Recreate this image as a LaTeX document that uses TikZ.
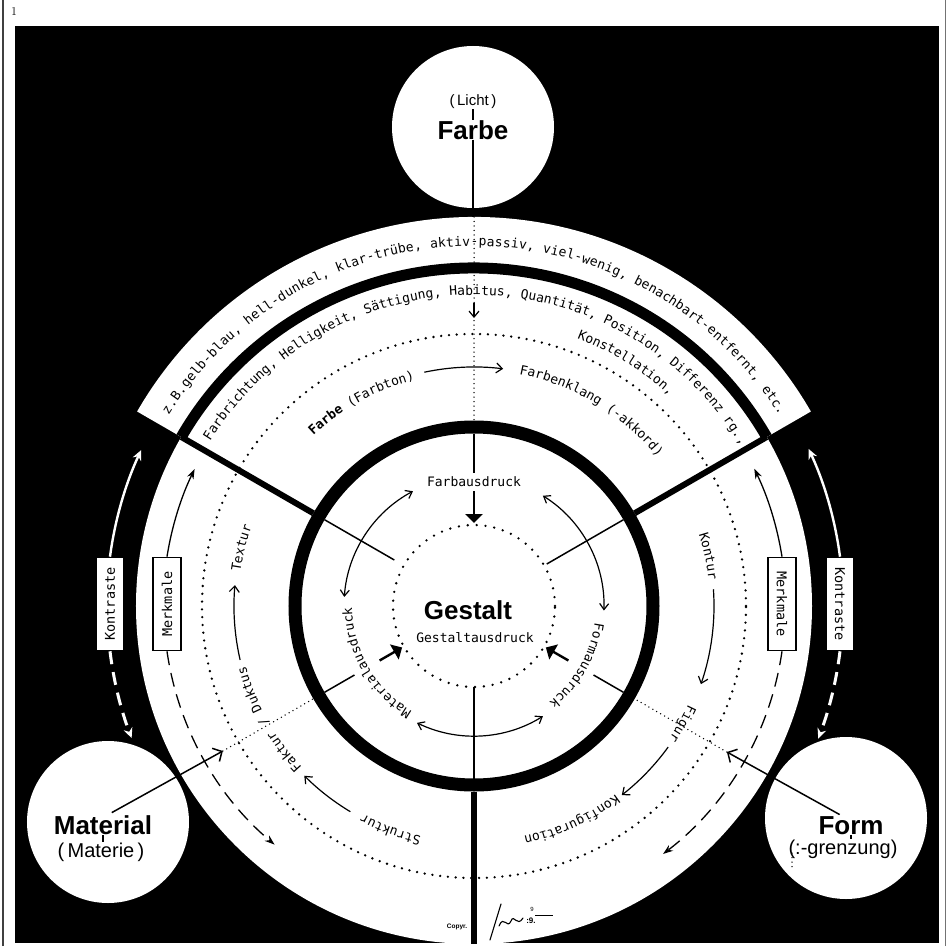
\documentclass[tikz,border=0pt]{standalone}
\usepackage{fontspec}
\setsansfont{Liberation Sans}
\setmonofont{DejaVu Sans Mono}
\usetikzlibrary{arrows.meta,decorations.text}

\newcommand\arcfont{\ttfamily\mdseries\fontsize{13}{15}\selectfont}
\newcommand\bigfont{\sffamily\bfseries\fontsize{26}{30}\selectfont}
\newcommand\subfont{\sffamily\fontsize{20}{22}\selectfont}

\tikzset{
  ring/.style       ={line width=13pt},
  divider/.style    ={line width=6pt},
  spoke/.style      ={line width=1.5pt},
  dotring/.style    ={line width=2.6pt,line cap=round,dash pattern=on 0pt off 7.8pt},
  finedots/.style   ={line width=1.5pt,line cap=round,dash pattern=on 0pt off 4.5pt},
  arctext/.style    ={decorate,decoration={text along path,text align=center,text={#1}}},
  fittext/.style    ={decorate,decoration={text along path,text align=fit to path,text={#1}}},
  pole/.style       ={circle,fill=white,minimum size=162pt,inner sep=0pt},
  label/.style      ={inner sep=0pt},
  tag/.style        ={draw,line width=1.6pt,fill=white,minimum width=93pt,minimum height=28pt,
                      inner sep=0pt,font=\ttfamily\fontsize{13.5}{15}\selectfont},
  flowarc/.style    ={line width=1.2pt,-{Straight Barb[length=6pt,width=10pt]}},
  twoway/.style     ={line width=1.2pt,{Straight Barb[length=6pt,width=9pt]}-{Straight Barb[length=6pt,width=9pt]}},
  inward/.style     ={line width=2.4pt,-{Triangle[length=9pt,width=17pt]}},
  inflow/.style     ={line width=1.5pt,-{Straight Barb[length=7pt,width=15pt]}},
  feature/.style    ={line width=1.3pt,-{Stealth[length=10pt,width=7pt]}},
  featuredash/.style={feature,dash pattern=on 14pt off 8pt},
  contrast/.style   ={white,line width=2.4pt,-{Stealth[length=10pt,width=9pt]}},
  contrastdash/.style={contrast,line width=3pt,dash pattern=on 13pt off 8pt}
}

\begin{document}
\begin{tikzpicture}[x=1pt,y=1pt]
  % page, number and black panel
  \useasboundingbox (-474,-340) rectangle (473,606);
  \fill[white] (-474,-340) rectangle (473,606);
  \draw[line width=1.2pt,black!75] (-471,-340) -- (-471,606);
  \draw[line width=1pt,black!55] (471,-340) -- (471,606);
  \node[font=\rmfamily\fontsize{12}{12}\selectfont] (pageno) at (-460,594) {1};
  \fill[black] (-459,-337) rectangle (465,580);

  % white fields of the wheel
  \fill[white] (0,0) circle[radius=338];
  \fill[white] (30:338) arc[start angle=30,end angle=150,radius=338]
    -- (150:389) arc[start angle=150,end angle=30,radius=389] -- cycle;
  \draw[ring,line width=11pt] (30:338) arc[start angle=30,end angle=150,radius=338];
  \node[pole] (farbe) at (-1,479) {};
  \node[pole] (material) at (-366,-216) {};
  \node[pole] (form) at (372,-212) {};

  % rings and dividers
  \draw[dotring] (0,0) circle[radius=272];
  \draw[ring] (0,0) circle[radius=179];
  \draw[dotring,dash pattern=on 0pt off 8.9pt] (0,0) circle[radius=81];
  \foreach \a in {30,150,270}
    \draw[divider] (\a:185.5) -- (\a:338);
  \draw[spoke] (150:172.5) -- (150:92);
  \draw[spoke] (30:172.5) -- (30:84);
  \draw[spoke] (270:172.5) -- (270:81);

  % poles
  \node[label,font=\sffamily\fontsize{15}{16}\selectfont] (licht) at (-1,504) {(\,Licht\,)};
  \node[label,font=\bigfont] (farbename) at (-1,476) {Farbe};
  \draw[line width=1.2pt] (licht.south) -- (licht.south |- farbename.north);
  \node[label,font=\bigfont] (matname) at (-371,-219) {Material};
  \node[label,font=\subfont] (matsub) at (-373,-246) {(\,Materie\,)};
  \draw[line width=1.2pt] (matname.south) -- (matname.south |- matsub.north);
  \node[label,font=\bigfont] (formname) at (377,-220) {Form};
  \node[label,font=\subfont] (formsub) at (369,-243) {(:-grenzung)};
  \draw[line width=1.2pt] (formname.south) -- (formname.south |- formsub.north);
  \draw[finedots] (318,-247) -- (318,-263);

  % feeds from the poles
  \coordinate (bandtop) at (90:389);
  \coordinate (matfoot) at (209.7:417);
  \coordinate (matgate) at (210:290);
  \coordinate (formfoot) at (330.3:421);
  \coordinate (formgate) at (330:292);
  \draw[spoke] (farbename.south) -- (farbename.south |- bandtop);
  \draw[finedots] (bandtop) -- (90:185.5);
  \draw[line width=1.2pt,-{Straight Barb[length=6pt,width=10pt]}] (90:303) -- (90:288);
  \draw[inflow] (matfoot) -- (matgate);
  \draw[finedots] (matgate) -- (210:185.5);
  \draw[inflow] (formfoot) -- (formgate);
  \draw[finedots] (formgate) -- (330:185.5);

  % outer texts
  \path[fittext={|\arcfont|z.B.gelb-blau, hell-dunkel, klar-trübe, aktiv-passiv, viel-wenig, benachbart-entfernt,  etc.}]
    (148:360) arc[start angle=148,end angle=32,radius=360];
  \path[fittext={|\arcfont|Farbrichtung, Helligkeit, Sättigung, Habitus, Quantität, Position, Differenz rg.,}]
    (148:311) arc[start angle=148,end angle=31,radius=311];
  \path[arctext={|\arcfont|Konstellation,}]
    (70:287) arc[start angle=70,end angle=46,radius=287];

  % boxes with their arrows
  \node[tag,rotate=90] (kontrastL) at (-364,2) {Kontraste};
  \node[tag,rotate=90] (merkmalL) at (-307,2) {Merkmale};
  \node[tag,rotate=-90] (merkmalR) at (308,2) {Merkmale};
  \node[tag,rotate=-90] (kontrastR) at (366,2) {Kontraste};
  \draw[contrast] (kontrastL.east) arc[start angle=172.4,end angle=155,radius=367];
  \draw[contrastdash] (kontrastL.west) arc[start angle=187,end angle=201,radius=367];
  \draw[feature] (merkmalL.east) arc[start angle=171,end angle=154,radius=311];
  \draw[featuredash] (merkmalL.west) arc[start angle=188.2,end angle=230,radius=310];
  \draw[feature] (merkmalR.west) arc[start angle=9,end angle=26,radius=312];
  \draw[featuredash] (merkmalR.east) arc[start angle=-8.2,end angle=-52.6,radius=311];
  \draw[contrast] (kontrastR.west) arc[start angle=7.5,end angle=25,radius=369];
  \draw[contrastdash] (kontrastR.east) arc[start angle=-7,end angle=-21,radius=369];

  % middle ring: Farbe, Material, Form sequences
  \path[arctext={|\arcfont\bfseries|Farbe |\arcfont|(Farbton)}]
    (137:234) arc[start angle=137,end angle=101,radius=234];
  \draw[flowarc] (102:239) arc[start angle=102,end angle=83,radius=239];
  \path[arctext={|\arcfont|Farbenklang (-akkord)}]
    (81:236) arc[start angle=81,end angle=37,radius=236];
  \path[arctext={|\arcfont|Textur}]
    (176:236) arc[start angle=176,end angle=156,radius=236];
  \draw[flowarc] (193:240) arc[start angle=193,end angle=175,radius=240];
  \path[arctext={|\arcfont|Faktur / Duktus}]
    (226:236) arc[start angle=226,end angle=192,radius=236];
  \draw[flowarc] (239:240) arc[start angle=239,end angle=225,radius=240];
  \path[arctext={|\arcfont|Struktur}]
    (262:236) arc[start angle=262,end angle=237,radius=236];
  \path[arctext={|\arcfont|Kontur}]
    (22:236) arc[start angle=22,end angle=2,radius=236];
  \draw[flowarc] (4:240) arc[start angle=4,end angle=-19,radius=240];
  \path[arctext={|\arcfont|Figur}]
    (-19:236) arc[start angle=-19,end angle=-40,radius=236];
  \draw[flowarc] (-36:240) arc[start angle=-36,end angle=-52,radius=240];
  \path[arctext={|\arcfont|Konfiguration}]
    (-50:236) arc[start angle=-50,end angle=-81,radius=236];

  % inner ring: the three Ausdruck labels
  \node[font=\arcfont,inner sep=4pt] (farbaus) at (0,124) {Farbausdruck};
  \draw[spoke] (90:172.5) -- (farbaus.north);
  \draw[inward] (farbaus.south) -- (90:83);
  \path[arctext={|\arcfont|Materialausdruck}]
    (244:122) arc[start angle=244,end angle=176,radius=122];
  \draw[spoke] (210:172.5) -- (210:138);
  \draw[inward] (210:109) -- (210:83);
  \path[arctext={|\arcfont|Formausdruck}]
    (-3:122) arc[start angle=-3,end angle=-57,radius=122];
  \draw[spoke] (330:172.5) -- (330:138);
  \draw[inward] (330:109) -- (330:83);
  \draw[twoway] (118:130) arc[start angle=118,end angle=176,radius=130];
  \draw[twoway] (244:130) arc[start angle=244,end angle=302,radius=130];
  \draw[twoway] (-2:130) arc[start angle=-2,end angle=58,radius=130];

  % centre
  \node[label,font=\bigfont] (gestalt) at (-6,-4) {Gestalt};
  \node[label,font=\arcfont] (gausdruck) at (1,-32) {Gestaltausdruck};

  % signature
  \node[label,font=\sffamily\bfseries\fontsize{6.5}{7}\selectfont] (copyr) at (-17,-321) {Copyr.};
  \draw[line width=1.1pt,line cap=round] (16,-334) -- (27,-298);
  \draw[line width=1.1pt,line cap=round] (25,-320) .. controls (30,-308) and (33,-324) .. (37,-315)
    .. controls (40,-307) and (43,-322) .. (49,-312);
  \node[label,font=\sffamily\bfseries\fontsize{8}{8}\selectfont] (sigdate) at (57,-315) {:9.};
  \node[label,font=\sffamily\fontsize{6}{6}\selectfont] (sigmark) at (58,-303) {9};
  \draw[line width=0.6pt] (61,-309) -- (79,-309);
\end{tikzpicture}
\end{document}
